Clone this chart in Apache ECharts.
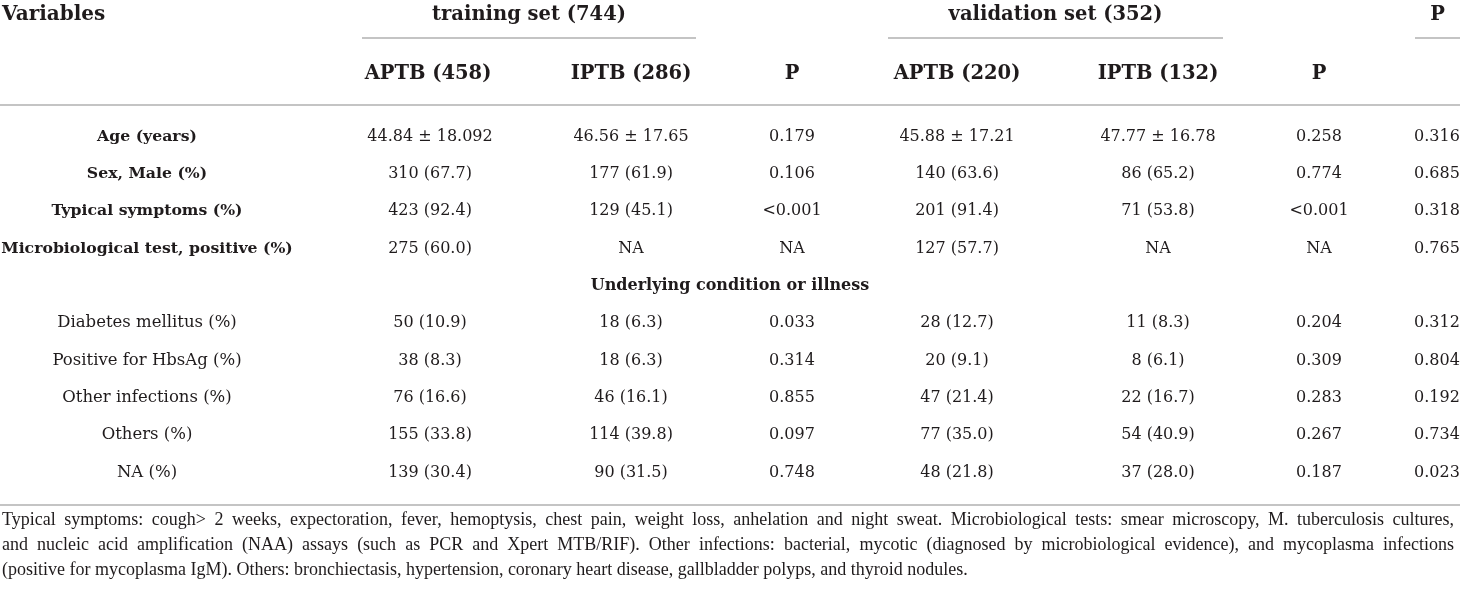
<!DOCTYPE html>
<html>
<head>
<meta charset="utf-8">
<script src="https://cdn.jsdelivr.net/npm/echarts@6/dist/echarts.min.js"></script>
<style>
  html, body { margin: 0; padding: 0; background: #fff; }
  #main { width: 1460px; height: 592px; }
</style>
</head>
<body>
<div id="main"></div>
<script>
// table content
const rowLabels = ['Age (years)', 'Sex, Male (%)', 'Typical symptoms (%)', 'Microbiological test, positive (%)',
  'Underlying condition or illness',
  'Diabetes mellitus (%)', 'Positive for HbsAg (%)', 'Other infections (%)', 'Others (%)', 'NA (%)']
const trainAPTB = ['44.84 ± 18.092', '310 (67.7)', '423 (92.4)', '275 (60.0)', '', '50 (10.9)', '38 (8.3)', '76 (16.6)', '155 (33.8)', '139 (30.4)']
const trainIPTB = ['46.56 ± 17.65', '177 (61.9)', '129 (45.1)', 'NA', '', '18 (6.3)', '18 (6.3)', '46 (16.1)', '114 (39.8)', '90 (31.5)']
const trainP = ['0.179', '0.106', '<0.001', 'NA', '', '0.033', '0.314', '0.855', '0.097', '0.748']
const validAPTB = ['45.88 ± 17.21', '140 (63.6)', '201 (91.4)', '127 (57.7)', '', '28 (12.7)', '20 (9.1)', '47 (21.4)', '77 (35.0)', '48 (21.8)']
const validIPTB = ['47.77 ± 16.78', '86 (65.2)', '71 (53.8)', 'NA', '', '11 (8.3)', '8 (6.1)', '22 (16.7)', '54 (40.9)', '37 (28.0)']
const validP = ['0.258', '0.774', '<0.001', 'NA', '', '0.204', '0.309', '0.283', '0.267', '0.187']
const overallP = ['0.316', '0.685', '0.318', '0.765', '', '0.312', '0.804', '0.192', '0.734', '0.023']
const cornerHeader = 'Variables'
const groupHeaders = ['training set (744)', 'validation set (352)', 'P']
const subHeaders = ['APTB (458)', 'IPTB (286)', 'P', 'APTB (220)', 'IPTB (132)', 'P']
const footnote = [
  'Typical symptoms: cough> 2 weeks, expectoration, fever, hemoptysis, chest pain, weight loss, anhelation and night sweat. Microbiological tests: smear microscopy, M. tuberculosis cultures,',
  'and nucleic acid amplification (NAA) assays (such as PCR and Xpert MTB/RIF). Other infections: bacterial, mycotic (diagnosed by microbiological evidence), and mycoplasma infections',
  '(positive for mycoplasma IgM). Others: bronchiectasis, hypertension, coronary heart disease, gallbladder polyps, and thyroid nodules.'
]
const sectionRow = 4 // the "Underlying condition" row

// layout (pixel positions on the hidden axes)
const labelX = 147
const tableMid = 730
const colX = [428, 631, 792, 957, 1158, 1319, 1437]
const groupSpans = [[362, 696], [888, 1223], [1415, 1460]]
const headRowY = [15, 74]
const underlineY = 38
const ink = '#1f1b1c'
const rule = '#b0b0b0'
const serif = '"DejaVu Serif", serif'
const footFont = '18px "Liberation Serif", serif'
const footLeft = 2, footRight = 1454, footTop = 520, footLead = 25

const valueCols = [trainAPTB, trainIPTB, trainP, validAPTB, validIPTB, validP, overallP]

// body cells
const bodyCells = []
rowLabels.forEach((lab, r) => {
  if (r === sectionRow) {
    bodyCells.push({ value: [tableMid, r], text: lab, kind: 'section' })
  } else {
    bodyCells.push({ value: [labelX, r], text: lab, kind: r < sectionRow ? 'boldLabel' : 'label' })
  }
  valueCols.forEach((col, c) => {
    if (col[r] !== '') bodyCells.push({ value: [colX[c] + (c === 0 ? 2 : 0), r], text: col[r], kind: 'num' })
  })
})

// header cells
const headCells = [{ value: [2, headRowY[0]], text: cornerHeader, kind: 'corner' }]
groupHeaders.forEach((g, i) => {
  const s = groupSpans[i]
  headCells.push({ value: [(s[0] + s[1]) / 2, headRowY[0]], text: g, kind: 'group', span: s })
})
subHeaders.forEach((h, i) => headCells.push({ value: [colX[i], headRowY[1]], text: h, kind: 'sub' }))

const fontFor = {
  num: { fontSize: 16, fontWeight: 'normal' },
  label: { fontSize: 16.5, fontWeight: 'normal' },
  boldLabel: { fontSize: 15.7, fontWeight: 'bold' },
  section: { fontSize: 16, fontWeight: 'bold' },
  corner: { fontSize: 20, fontWeight: 'bold' },
  group: { fontSize: 19.5, fontWeight: 'bold' },
  sub: { fontSize: 19.5, fontWeight: 'bold' }
}

function textEl(p, cell) {
  const f = fontFor[cell.kind]
  return {
    type: 'text',
    x: p[0],
    y: p[1],
    style: {
      text: cell.text,
      fill: ink,
      fontFamily: serif,
      fontSize: f.fontSize,
      fontWeight: f.fontWeight,
      align: cell.kind === 'corner' ? 'left' : 'center',
      verticalAlign: 'middle'
    }
  }
}

// footnote: justified lines, last line left aligned
const measure = document.createElement('canvas').getContext('2d')
measure.font = footFont
const footEls = []
footnote.forEach((line, i) => {
  const y = footTop + i * footLead
  if (i === footnote.length - 1) {
    footEls.push({ type: 'text', x: footLeft, y: y, silent: true,
      style: { text: line, font: footFont, fill: ink, verticalAlign: 'middle' } })
    return
  }
  const words = line.split(' ')
  const widths = words.map(w => measure.measureText(w).width)
  const total = widths.reduce((a, b) => a + b, 0)
  const gap = (footRight - footLeft - total) / (words.length - 1)
  let x = footLeft
  words.forEach((w, k) => {
    footEls.push({ type: 'text', x: x, y: y, silent: true,
      style: { text: w, font: footFont, fill: ink, verticalAlign: 'middle' } })
    x += widths[k] + gap
  })
})

const hiddenAxis = { axisLine: { show: false }, axisTick: { show: false }, axisLabel: { show: false }, splitLine: { show: false } }

let myChart = echarts.init(document.getElementById('main'))
myChart.setOption({
  animation: false,
  graphic: { elements: footEls },
  grid: [
    { left: 0, right: 0, top: 118, height: 373 },
    { left: 0, right: 0, top: 0, height: 105 }
  ],
  xAxis: [
    {
      gridIndex: 0, type: 'value', min: 0, max: 1460, position: 'top', offset: 13,
      axisLine: { show: true, lineStyle: { color: rule, width: 1.5 } },
      axisTick: { show: false }, axisLabel: { show: false }, splitLine: { show: false }
    },
    {
      gridIndex: 0, type: 'value', min: 0, max: 1460, position: 'bottom', offset: 14,
      axisLine: { show: true, lineStyle: { color: rule, width: 1.5 } },
      axisTick: { show: false }, axisLabel: { show: false }, splitLine: { show: false }
    },
    Object.assign({ gridIndex: 1, type: 'value', min: 0, max: 1460 }, hiddenAxis)
  ],
  yAxis: [
    { gridIndex: 0, type: 'category', data: rowLabels, inverse: true, show: false },
    Object.assign({ gridIndex: 1, type: 'value', min: 0, max: 105, inverse: true }, hiddenAxis)
  ],
  series: [
    {
      type: 'custom',
      xAxisIndex: 0,
      yAxisIndex: 0,
      data: bodyCells,
      silent: true,
      renderItem: function (params, api) {
        const cell = bodyCells[params.dataIndex]
        return textEl(api.coord([api.value(0), api.value(1)]), cell)
      }
    },
    {
      type: 'custom',
      xAxisIndex: 2,
      yAxisIndex: 1,
      data: headCells,
      silent: true,
      renderItem: function (params, api) {
        const cell = headCells[params.dataIndex]
        const t = textEl(api.coord([api.value(0), api.value(1)]), cell)
        if (cell.kind !== 'group') return t
        const a = api.coord([cell.span[0], underlineY])
        const b = api.coord([cell.span[1], underlineY])
        return {
          type: 'group',
          children: [
            t,
            { type: 'line', shape: { x1: a[0], y1: a[1], x2: b[0], y2: b[1] }, style: { stroke: rule, lineWidth: 1.5 } }
          ]
        }
      }
    }
  ]
})
</script>
</body>
</html>
